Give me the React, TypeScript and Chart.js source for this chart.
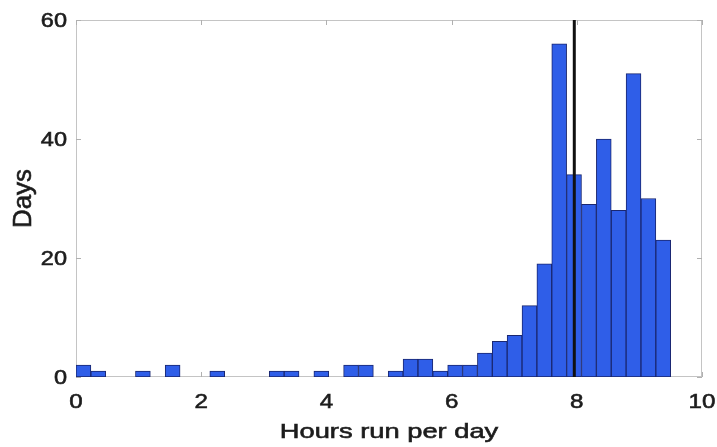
import React, { useEffect, useRef } from 'react';
import { Chart, registerables } from 'chart.js';

Chart.register(...registerables);

// Histogram: 40 bins spanning 0 .. 9.5 hours
const binStart = 0;
const binWidth = 9.5 / 40;
const dayCounts = [
  2, 1, 0, 0, 1, 0, 2, 0, 0, 1,
  0, 0, 0, 1, 1, 0, 1, 0, 2, 2,
  0, 1, 3, 3, 1, 2, 2, 4, 6, 7,
  12, 19, 56, 34, 29, 40, 28, 51, 30, 23,
];
const markerHours = 7.96;
const xTicks = [0, 2, 4, 6, 8, 10];
const yTicks = [0, 20, 40, 60];
const xTitle = 'Hours run per day';
const yTitle = 'Days';

const FAMILY = "'Liberation Sans', Arial, Helvetica, sans-serif";
const TEXT = '#1c1c1c';

function stretchedText(
  ctx: CanvasRenderingContext2D,
  text: string,
  x: number,
  y: number,
  sx: number,
  size: number,
  align: CanvasTextAlign,
  baseline: CanvasTextBaseline,
) {
  ctx.save();
  ctx.translate(x, y);
  ctx.scale(sx, 1);
  ctx.font = `${size}px ${FAMILY}`;
  ctx.fillStyle = TEXT;
  ctx.strokeStyle = TEXT;
  ctx.lineWidth = 0.6;
  ctx.textAlign = align;
  ctx.textBaseline = baseline;
  ctx.fillText(text, 0, 0);
  ctx.strokeText(text, 0, 0);
  ctx.restore();
}

const framePlugin = {
  id: 'frameBox',
  beforeDatasetsDraw(chart: any) {
    const { ctx, chartArea } = chart;
    const { left, right, top, bottom } = chartArea;
    const xs = chart.scales.x;
    const ys = chart.scales.y;
    ctx.save();
    ctx.strokeStyle = '#c4c4c4';
    ctx.lineWidth = 1;
    ctx.strokeRect(left + 0.5, top + 0.5, right - left - 1, bottom - top - 1);
    ctx.strokeStyle = '#b0b0b0';
    const len = 5;
    ctx.beginPath();
    xTicks.forEach((v) => {
      const px = Math.round(xs.getPixelForValue(v)) + 0.5;
      ctx.moveTo(px, bottom);
      ctx.lineTo(px, bottom - len);
      ctx.moveTo(px, top);
      ctx.lineTo(px, top + len);
    });
    yTicks.forEach((v) => {
      const py = Math.round(ys.getPixelForValue(v)) + 0.5;
      ctx.moveTo(left, py);
      ctx.lineTo(left + len, py);
      ctx.moveTo(right, py);
      ctx.lineTo(right - len, py);
    });
    ctx.stroke();
    ctx.restore();
  },
  afterDraw(chart: any) {
    const { ctx, chartArea } = chart;
    const xs = chart.scales.x;
    const ys = chart.scales.y;
    // x tick labels
    xTicks.forEach((v) => {
      stretchedText(ctx, String(v), xs.getPixelForValue(v), chartArea.bottom + 31, 1.15, 21, 'center', 'alphabetic');
    });
    // y tick labels
    yTicks.forEach((v) => {
      stretchedText(ctx, String(v), chartArea.left - 9, ys.getPixelForValue(v) + 1, 1.12, 21, 'right', 'middle');
    });
    // x title
    stretchedText(ctx, xTitle, (chartArea.left + chartArea.right) / 2, chartArea.bottom + 61, 1.3, 21, 'center', 'alphabetic');
    // y title (rotated)
    ctx.save();
    ctx.translate(31, (chartArea.top + chartArea.bottom) / 2);
    ctx.rotate(-Math.PI / 2);
    ctx.font = `26px ${FAMILY}`;
    ctx.fillStyle = TEXT;
    ctx.strokeStyle = TEXT;
    ctx.lineWidth = 0.6;
    ctx.textAlign = 'center';
    ctx.textBaseline = 'alphabetic';
    ctx.fillText(yTitle, 0, 0);
    ctx.strokeText(yTitle, 0, 0);
    ctx.restore();
  },
};

export default function App() {
  const canvasRef = useRef<HTMLCanvasElement | null>(null);

  useEffect(() => {
    const canvas = canvasRef.current;
    if (!canvas) return;
    const barData = dayCounts.map((c, i) => ({
      x: binStart + (i + 0.5) * binWidth,
      y: c === 0 ? null : c,
    }));
    const chart = new Chart(canvas, {
      type: 'bar',
      data: {
        datasets: [
          {
            type: 'line',
            data: [
              { x: markerHours, y: 0 },
              { x: markerHours, y: 60 },
            ],
            borderColor: '#111111',
            borderWidth: 3,
            pointRadius: 0,
            order: 0,
          } as any,
          {
            type: 'bar',
            data: barData as any,
            backgroundColor: '#2f5ee8',
            borderColor: '#1a2770',
            borderWidth: 1,
            borderSkipped: false,
            barPercentage: 1,
            categoryPercentage: 1,
            order: 1,
          } as any,
        ],
      },
      options: {
        responsive: false,
        animation: false,
        layout: { padding: { top: 20, right: 15, left: 0, bottom: 0 } },
        plugins: {
          legend: { display: false },
          tooltip: { enabled: false },
        },
        scales: {
          x: {
            type: 'linear',
            min: 0,
            max: 10,
            offset: false,
            grid: { display: false, drawTicks: false },
            border: { display: false },
            ticks: { display: false },
            afterFit: (scale: any) => {
              scale.height = 70;
            },
          },
          y: {
            type: 'linear',
            min: 0,
            max: 60,
            grid: { display: false, drawTicks: false },
            border: { display: false },
            ticks: { display: false },
            afterFit: (scale: any) => {
              scale.width = 76;
            },
          },
        },
      },
      plugins: [framePlugin],
    });
    return () => chart.destroy();
  }, []);

  return (
    <div style={{ position: 'fixed', left: 0, top: 0, width: 717, height: 447, background: '#fff' }}>
      <canvas ref={canvasRef} width={717} height={447} />
    </div>
  );
}
